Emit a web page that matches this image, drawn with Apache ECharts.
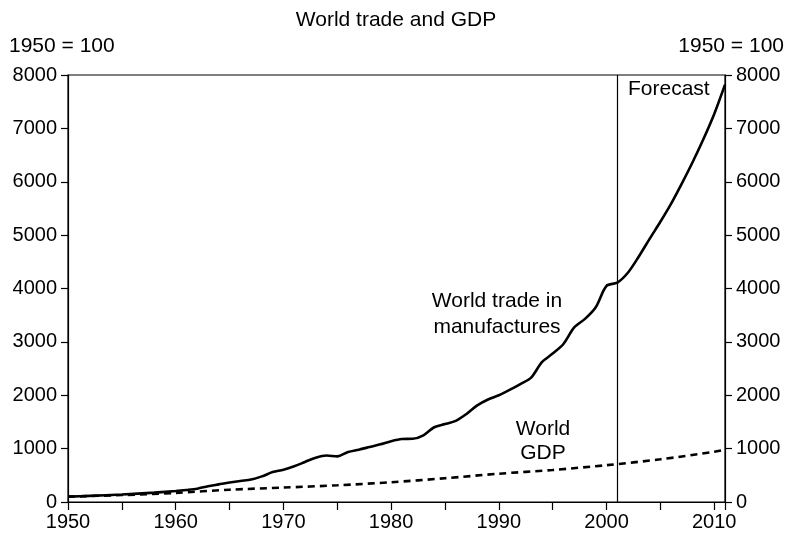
<!DOCTYPE html>
<html><head><meta charset="utf-8">
<script src="https://cdn.jsdelivr.net/npm/echarts@6/dist/echarts.min.js"></script>
<style>html,body{margin:0;padding:0;background:#fff}#c{width:792px;height:537px}</style>
</head><body><div id="c"></div>
<script>
const titleText = 'World trade and GDP';
const indexLabel = '1950 = 100';
const forecastYear = 2001;
const yTicks = [0, 1000, 2000, 3000, 4000, 5000, 6000, 7000, 8000];
const tradeYears = [1950,1952,1955,1958,1960,1961,1962,1963,1964,1965,1966,1967,1968,1969,1970,1971,1972,1973,1974,1975,1976,1977,1978,1979,1980,1981,1982,1983,1984,1985,1986,1987,1988,1989,1990,1991,1992,1993,1994,1995,1996,1997,1998,1999,2000,2001,2002,2003,2004,2005,2006,2007,2008,2009,2010,2011];
const tradeValues = [100,115,140,175,205,225,250,295,330,365,395,420,480,560,605,670,750,830,870,855,935,980,1030,1080,1140,1180,1185,1250,1400,1460,1520,1650,1810,1920,2000,2100,2210,2330,2620,2780,2960,3270,3430,3650,4050,4110,4300,4600,4930,5250,5590,5970,6370,6800,7270,7820];
const gdpYears = [1950,1955,1960,1965,1970,1975,1980,1985,1990,1995,2000,2005,2010,2011];
const gdpValues = [100,130,170,230,270,313,370,445,530,600,690,800,940,980];

const FONT = "'Liberation Sans', Arial, Helvetica, sans-serif";
const chart = echarts.init(document.getElementById('c'), null, {renderer:'canvas'});
const yAxisBase = (pos) => ({
  type:'value', position:pos, min:yTicks[0], max:yTicks[yTicks.length-1], interval:yTicks[1]-yTicks[0],
  axisLine:{show:true, lineStyle:{color:'#000', width:1.2}},
  axisTick:{show:true, length:7, lineStyle:{color:'#000', width:1.2}},
  axisLabel:{color:'#000', fontSize:20, fontFamily:FONT, margin:11, formatter:(v)=>String(v)},
  splitLine:{show:false}
});
chart.setOption({
  animation:false,
  backgroundColor:'#fff',
  title:{text:titleText, left:'center', top:5, textStyle:{color:'#000', fontSize:21, fontWeight:'normal', fontFamily:FONT}},
  grid:{left:68, right:67, top:75, bottom:35, show:true, borderColor:'#000', borderWidth:1.2},
  xAxis:{type:'value', min:1950, max:2011, interval:5,
    axisLine:{show:true, onZero:false, lineStyle:{color:'#000', width:1.2}},
    axisTick:{show:true, length:8, lineStyle:{color:'#000', width:1.2}},
    axisLabel:{color:'#000', fontSize:20, fontFamily:FONT, margin:10,
      formatter:(v)=> (v%10===0 ? String(v) : '')},
    splitLine:{show:false}},
  yAxis:[yAxisBase('left'), yAxisBase('right')],
  series:[
    {type:'line', name:'World trade in manufactures', data:tradeYears.map((y,i)=>[y,tradeValues[i]]),
      smooth:0.3, showSymbol:false, lineStyle:{color:'#000', width:2.6},
      markLine:{silent:true, symbol:'none', label:{show:false},
        lineStyle:{color:'#000', width:1.2, type:'solid'}, data:[{xAxis:forecastYear}]}},
    {type:'line', name:'World GDP', data:gdpYears.map((y,i)=>[y,gdpValues[i]]),
      smooth:0.3, showSymbol:false, lineStyle:{color:'#000', width:2.6, type:[7,5]}}
  ],
  graphic:[
    {type:'text', left:9, top:36, style:{text:indexLabel, fontSize:21, fontFamily:FONT, fill:'#000'}},
    {type:'text', right:8, top:36, style:{text:indexLabel, fontSize:21, fontFamily:FONT, fill:'#000'}},
    {type:'text', x:628, y:79, style:{text:'Forecast', fontSize:21, fontFamily:FONT, fill:'#000'}},
    {type:'text', x:497, y:288, style:{text:'World trade in\nmanufactures', fontSize:21, lineHeight:26, fontFamily:FONT, fill:'#000', align:'center'}},
    {type:'text', x:543, y:417, style:{text:'World\nGDP', fontSize:21, lineHeight:24, fontFamily:FONT, fill:'#000', align:'center'}}
  ]
});
</script></body></html>
